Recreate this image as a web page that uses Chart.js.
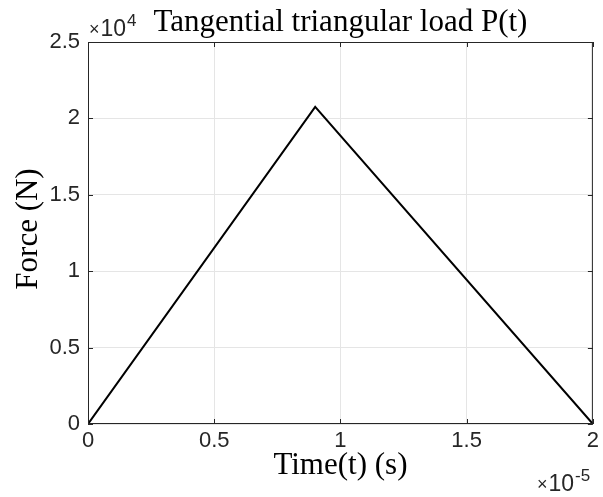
<!DOCTYPE html>
<html>
<head>
<meta charset="utf-8">
<script src="https://cdn.jsdelivr.net/npm/chart.js@4.4.1/dist/chart.umd.min.js"></script>
<style>
    html, body { margin: 0; padding: 0; background: #fff; }
    #wrap { width: 603px; height: 497px; }
</style>
</head>
<body>
<div id="wrap"><canvas id="loadChart" width="603" height="497"></canvas></div>
<script>
// data
var timeValues = [0, 0.9e-5, 2e-5];
var forceValues = [0, 20750, 0];
var xTickValues = [0, 0.5e-5, 1e-5, 1.5e-5, 2e-5];
var yTickValues = [0, 5000, 10000, 15000, 20000, 25000];
var xTickLabels = ['0', '0.5', '1', '1.5', '2'];
var yTickLabels = ['0', '0.5', '1', '1.5', '2', '2.5'];

var tickFont = { family: 'Liberation Sans, Arial, sans-serif', size: 22 };
var sans = 'Liberation Sans, Arial, sans-serif';
var serif = 'Liberation Serif, Times New Roman, serif';
var axisColor = '#262626';

// "x10^n" marker in the MATLAB style
function drawExponent(ctx, x, y, exp) {
    ctx.font = '18px ' + sans;
    ctx.fillText('\u00d7', x, y - 1);
    var w = ctx.measureText('\u00d7').width;
    ctx.font = '23px ' + sans;
    ctx.fillText('10', x + w + 1, y);
    w += ctx.measureText('10').width + 2;
    ctx.font = '17px ' + sans;
    ctx.fillText(exp, x + w, y - 10);
}

var matlabBox = {
    id: 'matlabBox',
    afterDraw: function (chart) {
        var ctx = chart.ctx;
        var a = chart.chartArea;
        var xs = chart.scales.x;
        var ys = chart.scales.y;
        ctx.save();

        // box + inward ticks
        ctx.strokeStyle = axisColor;
        ctx.lineWidth = 1;
        ctx.strokeRect(a.left + 0.5, a.top + 0.5, a.right - a.left - 1, a.bottom - a.top - 1);
        ctx.beginPath();
        xTickValues.forEach(function (v) {
            var px = Math.round(xs.getPixelForValue(v)) + 0.5;
            ctx.moveTo(px, a.bottom); ctx.lineTo(px, a.bottom - 5);
            ctx.moveTo(px, a.top); ctx.lineTo(px, a.top + 5);
        });
        yTickValues.forEach(function (v) {
            var py = Math.round(ys.getPixelForValue(v)) + 0.5;
            ctx.moveTo(a.left, py); ctx.lineTo(a.left + 5, py);
            ctx.moveTo(a.right, py); ctx.lineTo(a.right - 5, py);
        });
        ctx.stroke();

        ctx.fillStyle = '#000';
        // title
        ctx.font = '31px ' + serif;
        ctx.textAlign = 'center';
        ctx.textBaseline = 'alphabetic';
        ctx.fillText('Tangential triangular load P(t)', (a.left + a.right) / 2, 31);

        // axis labels
        ctx.fillText('Time(t) (s)', (a.left + a.right) / 2, 474);
        ctx.save();
        ctx.translate(37, (a.top + a.bottom) / 2 - 4);
        ctx.rotate(-Math.PI / 2);
        ctx.fillText('Force (N)', 0, 0);
        ctx.restore();

        // exponent markers
        ctx.fillStyle = axisColor;
        ctx.textAlign = 'left';
        drawExponent(ctx, 89, 36, '4');
        drawExponent(ctx, 537, 491, '-5');
        ctx.restore();
    }
};

var ctx = document.getElementById('loadChart').getContext('2d');
new Chart(ctx, {
    type: 'line',
    data: {
        datasets: [{
            data: timeValues.map(function (t, i) { return { x: t, y: forceValues[i] }; }),
            borderColor: '#000000',
            borderWidth: 2,
            pointRadius: 0,
            fill: false,
            tension: 0
        }]
    },
    options: {
        responsive: false,
        animation: false,
        devicePixelRatio: 1,
        layout: { padding: { left: 0, right: 5, top: 42, bottom: 0 } },
        plugins: {
            legend: { display: false },
            title: { display: false },
            tooltip: { enabled: false }
        },
        scales: {
            x: {
                type: 'linear',
                min: 0,
                max: 2e-5,
                afterBuildTicks: function (scale) {
                    scale.ticks = xTickValues.map(function (v) { return { value: v }; });
                },
                afterFit: function (scale) { scale.height = 73; },
                ticks: {
                    color: axisColor,
                    font: tickFont,
                    padding: 4,
                    maxRotation: 0,
                    callback: function (v) {
                        var i = xTickValues.indexOf(v);
                        return i >= 0 ? xTickLabels[i] : '';
                    }
                },
                grid: { color: '#e5e5e5', drawTicks: false },
                border: { display: false }
            },
            y: {
                min: 0,
                max: 25000,
                afterBuildTicks: function (scale) {
                    scale.ticks = yTickValues.map(function (v) { return { value: v }; });
                },
                afterFit: function (scale) { scale.width = 88; },
                ticks: {
                    color: axisColor,
                    font: tickFont,
                    padding: 8,
                    callback: function (v) {
                        var i = yTickValues.indexOf(v);
                        return i >= 0 ? yTickLabels[i] : '';
                    }
                },
                grid: { color: '#e5e5e5', drawTicks: false },
                border: { display: false }
            }
        }
    },
    plugins: [matlabBox]
});
</script>
</body>
</html>
